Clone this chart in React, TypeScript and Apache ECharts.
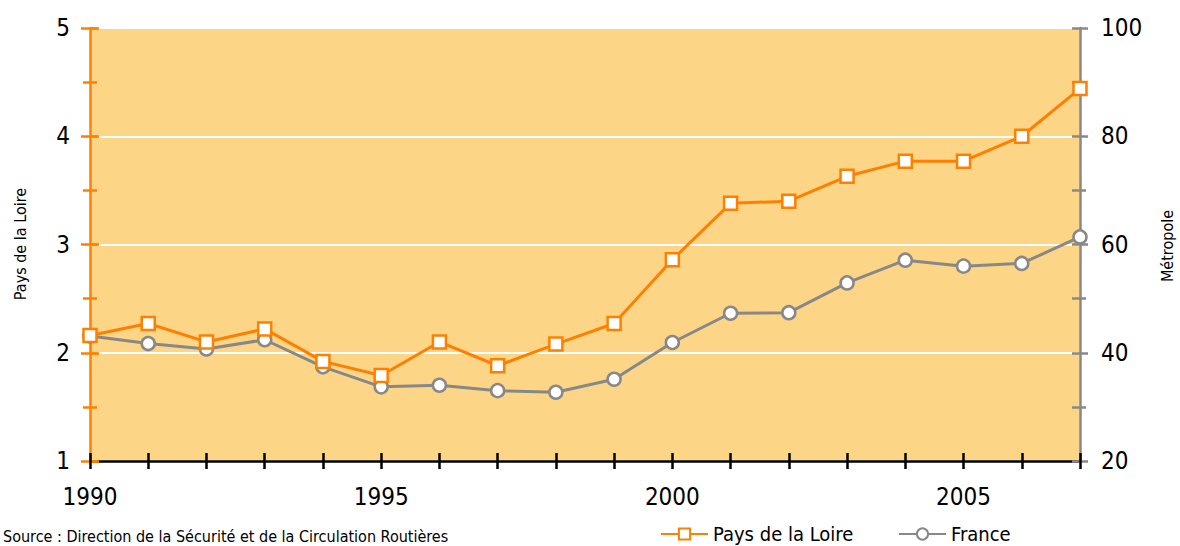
import React, { useEffect, useRef } from "react";
import * as echarts from "echarts";

const years = ["1990","1991","1992","1993","1994","1995","1996","1997","1998","1999","2000","2001","2002","2003","2004","2005","2006","2007"];
const paysDeLaLoire = [2.16, 2.27, 2.10, 2.22, 1.92, 1.79, 2.10, 1.88, 2.08, 2.27, 2.86, 3.38, 3.40, 3.63, 3.77, 3.77, 4.00, 4.44];
const france = [43.1, 41.7, 40.7, 42.4, 37.4, 33.7, 34.0, 33.0, 32.7, 35.1, 41.9, 47.3, 47.4, 52.9, 57.1, 56.0, 56.5, 61.4];
const leftName = "Pays de la Loire";
const rightName = "Métropole";
const sourceText = "Source : Direction de la Sécurité et de la Circulation Routières";

const FONT = "'Liberation Sans Narrow', 'DejaVu Sans Condensed', 'Roboto Condensed', sans-serif";
const ORANGE = "#FF8000";
const GREY = "#888888";

export default function App() {
  const ref = useRef<HTMLDivElement>(null);
  useEffect(() => {
    document.body.style.margin = "0";
    const chart = echarts.init(ref.current!, null, { renderer: "svg" });
    const grid = { left: 90, right: 100, top: 28, bottom: 85, show: true, backgroundColor: "#FDD587", borderWidth: 0 };
    const legendBase = {
      top: 524,
      padding: 0,
      itemWidth: 47,
      itemHeight: 14,
      textStyle: { fontFamily: FONT, fontSize: 20, color: "#000" },
    };
    chart.setOption({
      animation: false,
      grid,
      textStyle: { fontFamily: FONT },
      legend: [
        { ...legendBase, left: 660, data: ["Pays de la Loire"] },
        { ...legendBase, left: 898, data: ["France"] },
      ],
      graphic: [
        { type: "text", left: 3, top: 528, style: { text: sourceText, font: `16px ${FONT}`, fill: "#000" } },
        { type: "text", x: 20, y: 244, rotation: Math.PI / 2, style: { text: leftName, font: `16px ${FONT}`, fill: "#000", align: "center", verticalAlign: "middle" } },
        { type: "text", x: 1167, y: 246, rotation: Math.PI / 2, style: { text: rightName, font: `16px ${FONT}`, fill: "#000", align: "center", verticalAlign: "middle" } },
      ],
      xAxis: [
        {
          type: "category",
          data: years,
          boundaryGap: false,
          axisLine: { lineStyle: { color: "#000", width: 2.5 } },
          axisTick: { show: true, length: 8, inside: false, interval: 0, lineStyle: { color: "#000", width: 2.5 } },
          axisLabel: { interval: 4, margin: 24, fontSize: 24, color: "#000", fontFamily: FONT },
          splitLine: { show: false },
        },
        {
          type: "category",
          data: years,
          position: "bottom",
          boundaryGap: false,
          axisLine: { show: false },
          axisTick: { show: true, length: 8, inside: true, interval: 0, lineStyle: { color: "#000", width: 2.5 } },
          axisLabel: { show: false },
          splitLine: { show: false },
        },
      ],
      yAxis: [
        {
          type: "value",
          min: 1, max: 5, interval: 1,
          position: "left",
          axisLine: { show: true, lineStyle: { color: ORANGE, width: 2.5 } },
          axisTick: { show: true, length: 9, lineStyle: { color: ORANGE, width: 2.5 } },
          minorTick: { show: true, splitNumber: 2, length: 7, lineStyle: { color: ORANGE, width: 2.5 } },
          axisLabel: { margin: 20, fontSize: 24, color: "#000", fontFamily: FONT },
          splitLine: { show: true, lineStyle: { color: "#fff", width: 2 } },
        },
        {
          type: "value",
          min: 20, max: 100, interval: 20,
          position: "right",
          axisLine: { show: true, lineStyle: { color: GREY, width: 2.5 } },
          axisTick: { show: true, length: 8, lineStyle: { color: GREY, width: 2.5 } },
          minorTick: { show: true, splitNumber: 2, length: 6, lineStyle: { color: GREY, width: 2.5 } },
          axisLabel: { margin: 21, fontSize: 24, color: "#000", fontFamily: FONT },
          splitLine: { show: false },
        },
        {
          type: "value",
          min: 1, max: 5, interval: 1,
          position: "left",
          axisLine: { show: false },
          axisTick: { show: true, inside: true, length: 9, lineStyle: { color: ORANGE, width: 2.5 } },
          minorTick: { show: false },
          axisLabel: { show: false },
          splitLine: { show: false },
        },
        {
          type: "value",
          min: 1, max: 5, interval: 0.5,
          position: "left",
          axisLine: { show: false },
          axisTick: { show: true, inside: true, length: 7, lineStyle: { color: ORANGE, width: 2.5 } },
          axisLabel: { show: false },
          splitLine: { show: false },
        },
        {
          type: "value",
          min: 20, max: 100, interval: 10,
          position: "right",
          axisLine: { show: false },
          axisTick: { show: true, inside: true, length: 8, lineStyle: { color: GREY, width: 2.5 } },
          axisLabel: { show: false },
          splitLine: { show: false },
        },
      ],
      series: [
        {
          name: "France",
          type: "line",
          yAxisIndex: 1,
          data: france,
          symbol: "circle",
          symbolSize: 13,
          lineStyle: { color: GREY, width: 3 },
          itemStyle: { color: "#fff", borderColor: GREY, borderWidth: 2.5 },
          z: 3,
        },
        {
          name: "Pays de la Loire",
          type: "line",
          yAxisIndex: 0,
          data: paysDeLaLoire,
          symbol: "rect",
          symbolSize: 13,
          lineStyle: { color: ORANGE, width: 3 },
          itemStyle: { color: "#fff", borderColor: ORANGE, borderWidth: 2.5 },
          z: 4,
        },
      ],
    });
    return () => chart.dispose();
  }, []);
  return <div ref={ref} style={{ width: 1180, height: 546 }} />;
}
